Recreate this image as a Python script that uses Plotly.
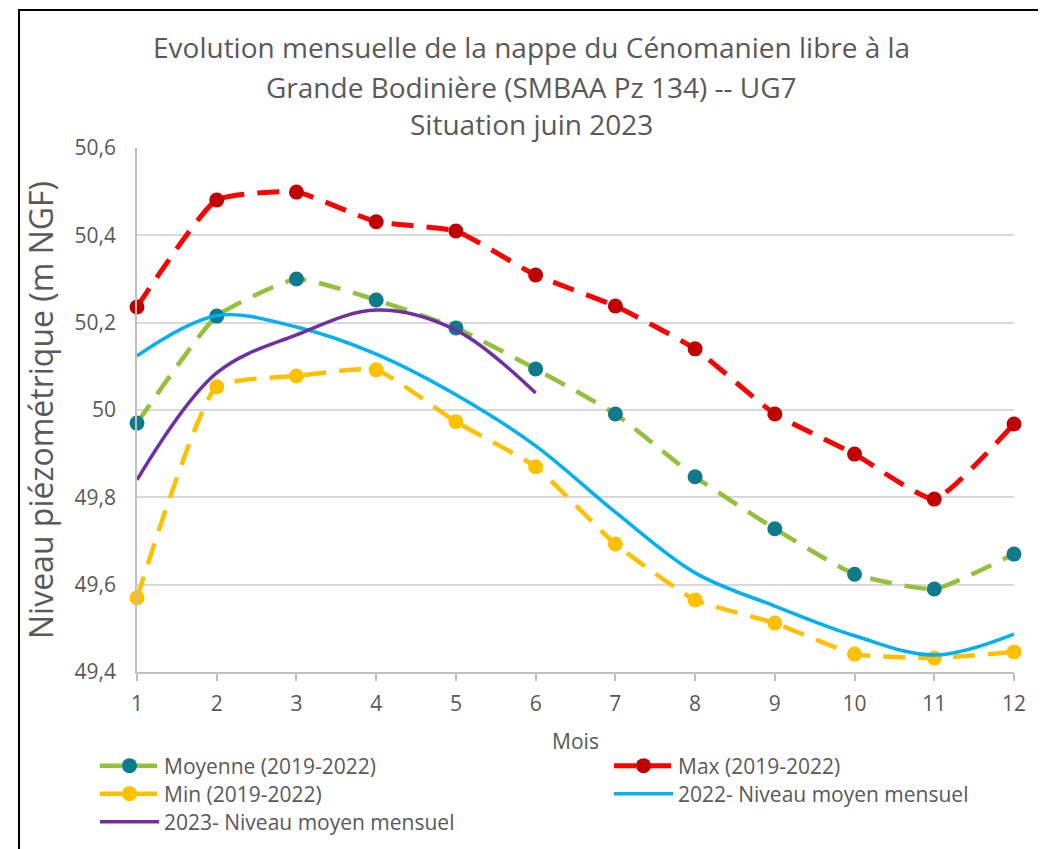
import plotly.graph_objects as go

months = [1, 2, 3, 4, 5, 6, 7, 8, 9, 10, 11, 12]
moyenne = [49.970, 50.215, 50.300, 50.252, 50.188, 50.094, 49.991, 49.847, 49.728, 49.624, 49.590, 49.670]
maxi = [50.236, 50.481, 50.499, 50.431, 50.410, 50.309, 50.238, 50.140, 49.991, 49.899, 49.796, 49.968]
mini = [49.570, 50.053, 50.078, 50.092, 49.973, 49.870, 49.693, 49.565, 49.512, 49.441, 49.432, 49.446]
niveau_2022 = [50.124, 50.216, 50.190, 50.128, 50.035, 49.918, 49.766, 49.627, 49.551, 49.483, 49.439, 49.487]
months_2023 = [1, 2, 3, 4, 5, 6]
niveau_2023 = [49.840, 50.085, 50.172, 50.229, 50.183, 50.039]
y_ticks = [49.4, 49.6, 49.8, 50.0, 50.2, 50.4, 50.6]
y_ticktext = ["49,4", "49,6", "49,8", "50", "50,2", "50,4", "50,6"]

FONT = "Open Sans"
TXT = "#595959"
DASH = "22px,13px"
SMOOTH = 0.45

# page offset (body margin) and plot-area position in screen pixels
OFF = 8
PX0, PX1, PY0, PY1 = 137, 1014, 148, 672
W, H = 1046 - OFF, 849 - OFF
L, T = PX0 - OFF, PY0 - OFF
R, B = W - (PX1 - OFF), H - (PY1 - OFF)
pw, ph = PX1 - PX0, PY1 - PY0


def px_x(p):
    return (p - PX0) / pw


def px_y(p):
    return (PY1 - p) / ph


fig = go.Figure()
fig.add_trace(go.Scatter(
    x=months, y=moyenne, name="Moyenne (2019-2022)", mode="lines+markers", cliponaxis=False,
    line=dict(color="#92C13E", width=4.5, dash=DASH, shape="spline", smoothing=SMOOTH),
    marker=dict(color="#0F7A8A", size=15), legend="legend"))
fig.add_trace(go.Scatter(
    x=months, y=maxi, name="Max (2019-2022)", mode="lines+markers", cliponaxis=False,
    line=dict(color="#FF0000", width=5, dash=DASH, shape="spline", smoothing=SMOOTH),
    marker=dict(color="#C00000", size=15), legend="legend2"))
fig.add_trace(go.Scatter(
    x=months, y=mini, name="Min (2019-2022)", mode="lines+markers", cliponaxis=False,
    line=dict(color="#FFC000", width=4.5, dash=DASH, shape="spline", smoothing=SMOOTH),
    marker=dict(color="#FFC000", size=15), legend="legend3"))
fig.add_trace(go.Scatter(
    x=months, y=niveau_2022, name="2022- Niveau moyen mensuel", mode="lines",
    line=dict(color="#00B0F0", width=3.5, shape="spline"), legend="legend4"))
fig.add_trace(go.Scatter(
    x=months_2023, y=niveau_2023, name="2023- Niveau moyen mensuel", mode="lines",
    line=dict(color="#7030A0", width=3.5, shape="spline"), legend="legend5"))

leg_common = dict(orientation="h", xanchor="left", yanchor="middle",
                  font=dict(family=FONT, size=21, color=TXT),
                  bgcolor="rgba(0,0,0,0)", itemwidth=59)

title_lines = [
    ("Evolution mensuelle de la nappe du Cénomanien libre à la", 47),
    ("Grande Bodinière (SMBAA Pz 134) -- UG7", 87),
    ("Situation juin 2023", 124),
]
annotations = [
    dict(text=t, x=px_x(531), y=px_y(yy), xref="paper", yref="paper",
         xanchor="center", yanchor="middle", showarrow=False,
         font=dict(family=FONT, size=28, color=TXT))
    for t, yy in title_lines
]

fig.update_layout(
    width=W, height=H,
    margin=dict(l=L, r=R, t=T, b=B, autoexpand=False),
    paper_bgcolor="white", plot_bgcolor="white",
    font=dict(family=FONT, color=TXT),
    annotations=annotations,
    legend=dict(x=px_x(95), y=px_y(766), **leg_common),
    legend2=dict(x=px_x(609), y=px_y(766), **leg_common),
    legend3=dict(x=px_x(95), y=px_y(794), **leg_common),
    legend4=dict(x=px_x(609), y=px_y(794), **leg_common),
    legend5=dict(x=px_x(95), y=px_y(822), **leg_common),
    xaxis=dict(range=[1, 12], tickvals=months, showgrid=False,
               showline=True, linecolor="#BFBFBF", linewidth=1.5,
               ticks="outside", ticklen=7, tickcolor="#BFBFBF", tickwidth=1.5,
               ticklabelstandoff=5,
               tickfont=dict(family=FONT, size=21, color=TXT),
               title=dict(text="Mois", font=dict(family=FONT, size=21, color=TXT), standoff=18),
               zeroline=False, fixedrange=True),
    yaxis=dict(range=[49.4, 50.6], tickvals=y_ticks, ticktext=y_ticktext,
               showgrid=True, gridcolor="#D9D9D9", gridwidth=1.5,
               showline=True, linecolor="#BFBFBF", linewidth=1.5,
               ticks="", ticklabelstandoff=15,
               tickfont=dict(family=FONT, size=21, color=TXT),
               title=dict(text="Niveau piézométrique (m NGF)",
                          font=dict(family=FONT, size=32, color=TXT), standoff=11),
               zeroline=False, fixedrange=True),
    shapes=[dict(type="rect", xref="paper", yref="paper",
                 x0=px_x(19), x1=px_x(1040), y0=px_y(870), y1=px_y(10),
                 line=dict(color="#000000", width=2), fillcolor="rgba(0,0,0,0)", layer="above")],
    showlegend=True,
)

fig.write_html("out.html")
